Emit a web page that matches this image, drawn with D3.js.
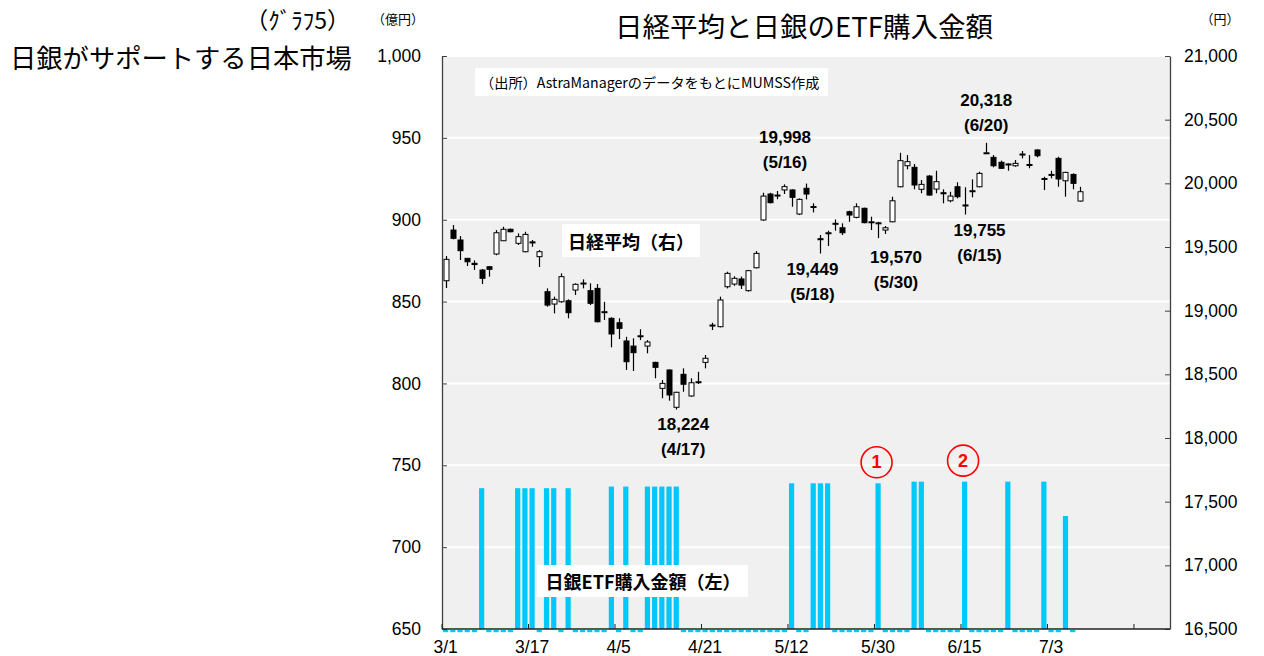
<!DOCTYPE html>
<html><head><meta charset="utf-8">
<script src="https://cdn.jsdelivr.net/npm/d3@7"></script>
<style>body{margin:0;background:#fff}svg{display:block}</style>
</head><body>
<svg id="c" width="1264" height="656"></svg>
<script>
// ---- data ----
const dates = ["3/1","3/2","3/3","3/6","3/7","3/8","3/9","3/10","3/13","3/14","3/15","3/16","3/17","3/21","3/22","3/23","3/24","3/27","3/28","3/29","3/30","3/31",
"4/3","4/4","4/5","4/6","4/7","4/10","4/11","4/12","4/13","4/14","4/17","4/18","4/19","4/20","4/21","4/24","4/25","4/26","4/27","4/28",
"5/1","5/2","5/8","5/9","5/10","5/11","5/12","5/15","5/16","5/17","5/18","5/19","5/22","5/23","5/24","5/25","5/26","5/29","5/30","5/31",
"6/1","6/2","6/5","6/6","6/7","6/8","6/9","6/12","6/13","6/14","6/15","6/16","6/19","6/20","6/21","6/22","6/23","6/26","6/27","6/28","6/29","6/30",
"7/3","7/4","7/5","7/6","7/7"];
const open = [19235,19633,19555,19411,19372,19319,19345,19445,19549,19639,19529,19463,19540,19424,19149,19052,19070,19078,19162,19210,19157,19175,
18985,18940,18905,18762,18722,18800,18722,18594,18390,18534,18241,18500,18330,18436,18594,18880,18874,19188,19209,19249,
19157,19337,19712,19916,19900,19948,19948,19759,19961,19818,19565,19605,19680,19651,19777,19733,19804,19694,19686,19633,
19698,19973,20138,20126,19953,20057,19955,19926,19863,19973,19828,19938,19973,20236,20204,20165,20152,20138,20226,20148,20262,20038,
20065,20196,20020,20070,19861];
const high = [19429,19673,19586,19413,19395,19327,19351,19633,19659,19645,19607,19620,19555,19476,19175,19110,19293,19089,19215,19246,19215,19209,
19070,18948,18940,18795,18783,18854,18769,18599,18455,18539,18363,18547,18469,18520,18652,18905,19110,19306,19270,19267,
19320,19468,19926,19926,19940,19992,19953,19882,19998,19843,19594,19628,19717,19686,19785,19843,19809,19738,19698,19665,
19895,20240,20222,20152,20026,20065,20099,19953,19934,20008,19969,20031,20091,20318,20222,20178,20157,20183,20254,20222,20267,20052,
20099,20209,20091,20078,19973];
const low = [19178,19560,19398,19351,19320,19209,19267,19435,19547,19615,19516,19458,19502,19343,19031,18979,19062,18940,19123,19175,19044,18908,
18927,18712,18777,18534,18526,18769,18665,18469,18312,18293,18224,18363,18324,18424,18547,18848,18869,19175,19195,19170,
19150,19332,19706,19843,19875,19916,19816,19751,19874,19772,19449,19508,19628,19594,19698,19725,19686,19633,19570,19602,
19694,19969,20110,19953,19922,19903,19922,19843,19851,19882,19755,19890,19969,20234,20126,20112,20099,20130,20196,20118,20204,19947,
20039,19973,19895,19953,19856];
const close = [19403,19568,19471,19384,19362,19254,19325,19612,19639,19620,19581,19599,19537,19463,19044,19089,19267,18984,19207,19217,19058,18913,
18992,18817,18861,18599,18670,18803,18754,18555,18429,18338,18359,18422,18434,18442,18626,18887,19084,19293,19254,19201,
19314,19450,19900,19848,19908,19974,19890,19874,19916,19811,19560,19612,19686,19612,19751,19816,19691,19698,19690,19651,
19863,20178,20170,19987,19992,19908,20013,19922,19900,19895,19830,19942,20078,20240,20138,20118,20144,20157,20230,20144,20217,20034,
20070,20034,20086,20000,19934];
// BOJ ETF purchases (100 million yen)
const etf = [12,12,12,12,12,736,12,12,12,12,736,736,736,12,736,736,12,736,12,12,12,12,
12,737,12,737,12,12,737,737,737,737,737,12,12,12,12,12,12,12,12,12,
12,12,12,12,12,12,739,12,12,739,739,739,12,12,12,12,12,12,739,12,
12,12,12,740,740,12,12,12,12,12,740,12,12,12,12,12,740,12,12,12,12,740,
12,12,719,12,null];
const leftTicks = [650,700,750,800,850,900,950,1000];
const rightTicks = [16500,17000,17500,18000,18500,19000,19500,20000,20500,21000];
const xTickIdx = [0,12,24,36,48,60,72,84,96];
const nSlots = 101;
const callouts = [
  {i:50, kind:"high", dx:-21, dy:-46},
  {i:75, kind:"high", dx:0, dy:-42},
  {i:52, kind:"low", dx:-8, dy:16},
  {i:60, kind:"low", dx:18, dy:19},
  {i:72, kind:"low", dx:15, dy:16},
  {i:32, kind:"low", dx:7, dy:15}
];
const circled = [{i:60, label:"1"}, {i:72, label:"2"}];

// ---- layout ----
const L = 442, R = 1170, T = 56, B = 629;
const svg = d3.select("#c");
const NUM = "'Liberation Sans', Arial, sans-serif";
const JP = "'Noto Sans CJK JP', 'Noto Sans', sans-serif";

const x = d3.scaleBand().domain(d3.range(nSlots)).range([L, R]).padding(0);
const cx = i => x(i) + x.bandwidth() / 2;
const yL = d3.scaleLinear().domain([650, 1000]).range([B, T]);
const yR = d3.scaleLinear().domain([16500, 21000]).range([B, T]);
const fmt = d3.format(",");

svg.append("rect").attr("x", L).attr("y", T).attr("width", R - L).attr("height", B - T).attr("fill", "#f0f0f0");
svg.append("g").selectAll("line").data(leftTicks.slice(1)).join("line")
  .attr("x1", L).attr("x2", R).attr("y1", d => yL(d)).attr("y2", d => yL(d))
  .attr("stroke", "#fff").attr("stroke-width", 2);

// bars
const barData = etf.map((v, i) => ({v, i})).filter(d => d.v != null);
svg.append("g").selectAll("rect").data(barData).join("rect")
  .attr("x", d => cx(d.i) - 2.6).attr("width", 5.2)
  .attr("y", d => d.v >= 650 ? yL(d.v) : B + 1)
  .attr("height", d => d.v >= 650 ? B - yL(d.v) : 2.2)
  .attr("fill", "#00c8fb");

// candles
const candles = dates.map((d, i) => ({i, o: open[i], h: high[i], l: low[i], c: close[i]}));
const cg = svg.append("g");
cg.selectAll("line").data(candles).join("line")
  .attr("x1", d => Math.round(cx(d.i)) + 0.5).attr("x2", d => Math.round(cx(d.i)) + 0.5)
  .attr("y1", d => yR(d.h)).attr("y2", d => yR(d.l))
  .attr("stroke", "#000").attr("stroke-width", 1.2);
cg.selectAll("rect").data(candles).join("rect")
  .attr("x", d => Math.round(cx(d.i)) - 2)
  .attr("width", 5)
  .attr("y", d => yR(Math.max(d.o, d.c)))
  .attr("height", d => Math.max(1, Math.abs(yR(d.o) - yR(d.c))))
  .attr("fill", d => d.c >= d.o ? "#fff" : "#000")
  .attr("stroke", "#000").attr("stroke-width", 1);

// axes
const axL = svg.append("g").attr("transform", `translate(${L},0)`)
  .call(d3.axisLeft(yL).tickValues(leftTicks).tickFormat(fmt).tickSizeInner(-5).tickSizeOuter(0).tickPadding(21));
const axR = svg.append("g").attr("transform", `translate(${R},0)`)
  .call(d3.axisRight(yR).tickValues(rightTicks).tickFormat(fmt).tickSizeInner(-5).tickSizeOuter(0).tickPadding(14));
[axL, axR].forEach(g => {
  g.select(".domain").attr("stroke", "#404040").attr("stroke-width", 1.3);
  g.selectAll(".tick line").attr("stroke", "#404040");
  g.selectAll("text").attr("font-family", NUM).attr("font-size", 17.5).attr("fill", "#000");
});
const axB = svg.append("g");
axB.append("line").attr("x1", L).attr("x2", R).attr("y1", B).attr("y2", B).attr("stroke", "#222").attr("stroke-width", 1.5);
axB.selectAll("line.t").data(xTickIdx).join("line").attr("class", "t")
  .attr("x1", d => x(d)).attr("x2", d => x(d)).attr("y1", B).attr("y2", B - 5).attr("stroke", "#222");
axB.selectAll("text").data(xTickIdx.filter(i => i < dates.length)).join("text")
  .attr("x", d => cx(d)).attr("y", 653).attr("text-anchor", "middle")
  .attr("font-family", NUM).attr("font-size", 17.5).text(d => dates[d]);

// titles
svg.append("text").attr("x", 804).attr("y", 37).attr("text-anchor", "middle")
  .attr("font-family", JP).attr("font-size", 27.5).text("日経平均と日銀のETF購入金額");
svg.append("text").attr("x", 350).attr("y", 29).attr("text-anchor", "end")
  .attr("font-family", JP).attr("font-size", 23).text("（ｸﾞﾗﾌ5）");
svg.append("text").attr("x", 10).attr("y", 68)
  .attr("font-family", JP).attr("font-size", 26.3).text("日銀がサポートする日本市場");
svg.append("text").attr("x", 398).attr("y", 24).attr("text-anchor", "middle")
  .attr("font-family", JP).attr("font-size", 13).text("（億円）");
svg.append("text").attr("x", 1220).attr("y", 24).attr("text-anchor", "middle")
  .attr("font-family", JP).attr("font-size", 13).text("（円）");

// boxes
function box(x0, y0, w, h, txt, tx, size, weight, anchor) {
  svg.append("rect").attr("x", x0).attr("y", y0).attr("width", w).attr("height", h).attr("fill", "#fff");
  svg.append("text").attr("x", tx).attr("y", y0 + h / 2).attr("dominant-baseline", "central")
    .attr("text-anchor", anchor).attr("font-family", JP).attr("font-size", size).attr("font-weight", weight).text(txt);
}
box(475, 68, 353, 28, "（出所）AstraManagerのデータをもとにMUMSS作成", 480, 14.2, 400, "start");
box(562, 224, 138, 33, "日経平均（右）", 631, 18, 700, "middle");
box(537, 565, 211, 32, "日銀ETF購入金額（左）", 643, 18, 700, "middle");

// callouts
const cl = svg.append("g").attr("font-family", NUM).attr("font-weight", 700).attr("font-size", 17).attr("text-anchor", "middle");
callouts.forEach(c => {
  const v = c.kind === "high" ? high[c.i] : low[c.i];
  const px = cx(c.i) + c.dx, py = yR(v) + c.dy;
  cl.append("text").attr("x", px).attr("y", py).attr("dominant-baseline", "central").text(fmt(v));
  cl.append("text").attr("x", px).attr("y", py + 25).attr("dominant-baseline", "central").text("(" + dates[c.i] + ")");
});

// circled markers
circled.forEach(c => {
  const px = cx(c.i) - 1.5, py = yL(etf[c.i]) - 21;
  svg.append("circle").attr("cx", px).attr("cy", py).attr("r", 15.5).attr("fill", "none").attr("stroke", "#f00").attr("stroke-width", 1.6);
  svg.append("text").attr("x", px).attr("y", py).attr("dominant-baseline", "central").attr("text-anchor", "middle")
    .attr("font-family", NUM).attr("font-weight", 700).attr("font-size", 18).attr("fill", "#f00").text(c.label);
});
</script>
</body></html>
